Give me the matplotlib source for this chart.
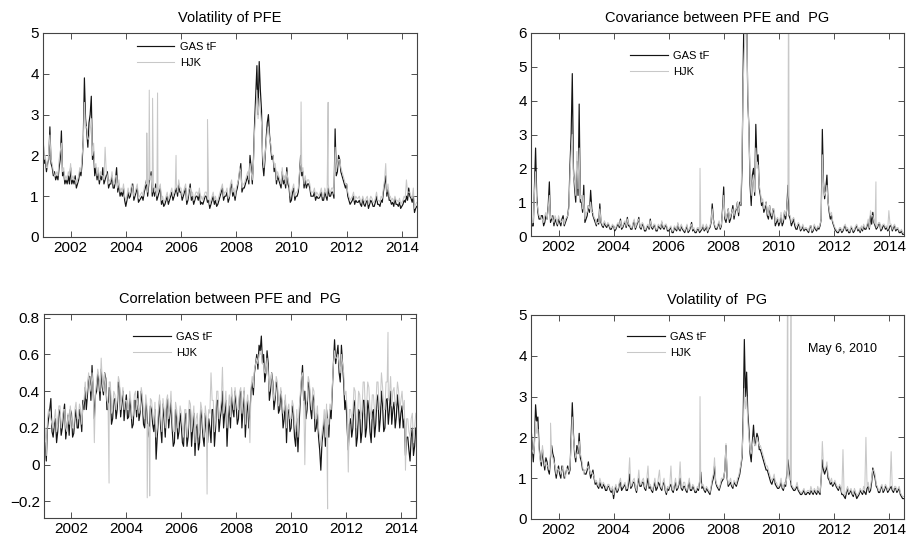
import numpy as np
import matplotlib
matplotlib.use("Agg")
import matplotlib.pyplot as plt

plt.rcParams["font.family"] = ["Liberation Sans", "DejaVu Sans"]

START_YEAR = 2001  # readings at the start and middle of each month, Jan 2001 .. Jul 2014

# ---- Volatility of PFE ----
pfe_vol_gas = [
    2.5, 1.9, 1.8, 2.7, 1.7, 1.6, 1.5, 1.7, 2.6, 1.6, 1.4, 1.5,
    1.7, 1.4, 1.5, 1.3, 1.6, 1.8, 3.9, 2.6, 2.8, 3.45, 2.1, 1.7,
    1.6, 1.5, 1.7, 1.4, 1.6, 1.3, 1.5, 1.2, 1.7, 1.3, 1.1, 1.2,
    0.75, 1.1, 1.0, 1.3, 1.0, 1.2, 0.9, 1.0, 1.1, 1.4, 1.3, 1.6,
    1.2, 1.3, 1.0, 1.2, 0.9, 0.8, 1.0, 0.9, 1.1, 1.0, 1.2, 1.3,
    1.1, 1.0, 1.2, 0.9, 1.3, 1.0, 0.9, 1.0, 1.1, 0.85, 0.9, 1.0,
    0.9, 0.8, 1.0, 0.9, 0.8, 1.0, 1.2, 1.0, 1.1, 0.95, 1.3, 1.1,
    1.1, 1.4, 1.8, 1.2, 1.3, 1.5, 2.0, 1.3, 2.8, 4.2, 4.3, 3.1,
    1.5, 2.4, 3.0, 2.2, 2.0, 1.7, 1.5, 1.3, 1.6, 1.4, 1.7, 1.2,
    0.9, 1.2, 1.0, 1.1, 2.0, 1.6, 1.4, 1.3, 1.2, 1.0, 1.1, 1.0,
    0.95, 1.1, 0.9, 1.0, 1.2, 1.0, 1.1, 2.65, 1.6, 1.9, 1.5, 1.3,
    1.3, 0.9, 0.85, 1.0, 0.9, 0.85, 0.8, 0.95, 0.75, 0.9, 0.8, 0.85,
    0.75, 1.0, 0.8, 0.9, 1.1, 1.5, 1.2, 0.9, 0.85, 0.95, 0.8, 0.85,
    0.75, 0.9, 1.0, 1.2, 0.95, 1.0, 0.7,
]
pfe_vol_gas_mid = [
    1.8, 1.6, 1.9, 1.8, 1.5, 1.4, 1.4, 1.9, 1.5, 1.3, 1.3, 1.3,
    1.3, 1.3, 1.2, 1.4, 1.5, 2.4, 2.9, 2.2, 3.0, 1.9, 1.5, 1.4,
    1.3, 1.4, 1.3, 1.5, 1.2, 1.3, 1.2, 1.4, 1.1, 1.0, 1.0, 0.9,
    0.9, 0.95, 1.2, 0.9, 1.1, 0.85, 0.95, 0.9, 1.2, 1.0, 1.5, 1.0,
    1.0, 0.9, 1.1, 0.8, 0.75, 0.9, 0.8, 1.0, 0.9, 1.1, 1.0, 1.1,
    0.9, 1.1, 0.8, 1.1, 0.9, 0.8, 1.0, 0.9, 0.8, 0.8, 1.0, 0.85,
    0.7, 0.9, 0.8, 0.75, 0.9, 1.1, 0.9, 1.0, 0.85, 1.2, 1.0, 0.9,
    1.2, 1.6, 1.1, 1.2, 1.4, 1.3, 1.7, 1.9, 3.5, 3.0, 3.6, 1.8,
    1.9, 2.8, 2.5, 1.9, 1.6, 1.3, 1.4, 1.2, 1.3, 1.2, 1.3, 0.85,
    1.1, 0.9, 1.0, 1.5, 1.5, 1.2, 1.2, 1.3, 1.0, 1.0, 0.9, 0.95,
    1.0, 0.9, 1.1, 0.9, 1.0, 1.1, 0.95, 1.5, 2.0, 1.6, 1.4, 1.2,
    1.0, 0.8, 0.9, 0.8, 0.85, 0.9, 0.75, 0.8, 0.85, 0.7, 0.9, 0.75,
    0.85, 0.8, 0.75, 0.85, 1.3, 1.0, 0.9, 0.8, 0.75, 0.8, 0.75, 0.7,
    0.8, 0.85, 0.9, 1.0, 0.85, 0.6, 0.75,
]
pfe_vol_hjk = [
    2.6, 2.0, 1.7, 2.5, 1.8, 1.5, 1.6, 1.9, 2.3, 1.7, 1.5, 1.6,
    1.8, 1.5, 1.4, 1.4, 1.7, 2.0, 3.3, 2.7, 2.4, 2.9, 2.3, 1.8,
    1.7, 1.6, 1.5, 2.2, 1.5, 1.4, 1.6, 1.3, 1.5, 1.4, 1.2, 1.3,
    0.9, 1.2, 1.1, 1.2, 1.1, 1.3, 1.0, 1.1, 1.2, 1.3, 1.4, 1.5,
    1.3, 1.2, 1.1, 1.3, 1.0, 0.9, 1.1, 1.0, 1.2, 1.1, 1.3, 1.4,
    1.2, 1.1, 1.3, 1.0, 1.2, 1.1, 1.0, 1.1, 1.2, 1.0, 1.0, 1.1,
    1.0, 0.9, 1.1, 1.0, 0.9, 1.1, 1.3, 1.1, 1.2, 1.0, 1.4, 1.2,
    1.2, 1.4, 1.6, 1.3, 1.4, 1.6, 1.8, 1.4, 2.6, 3.6, 3.4, 2.8,
    1.7, 2.3, 2.7, 2.3, 2.0, 1.8, 1.6, 1.4, 1.7, 1.5, 1.6, 1.3,
    1.1, 1.3, 1.1, 1.2, 1.8, 1.7, 1.5, 1.4, 1.3, 1.1, 1.2, 1.1,
    1.0, 1.2, 1.0, 1.1, 1.3, 1.1, 1.2, 2.2, 1.8, 1.9, 1.6, 1.4,
    1.3, 1.0, 0.95, 1.1, 1.0, 0.95, 0.9, 1.0, 0.85, 1.0, 0.9, 0.95,
    0.85, 1.1, 0.9, 1.0, 1.2, 1.8, 1.3, 1.0, 0.95, 1.0, 0.9, 0.95,
    0.85, 1.0, 1.4, 1.1, 1.0, 1.2, 0.8,
]
pfe_vol_hjk_mid = [
    1.9, 1.7, 2.1, 1.9, 1.6, 1.5, 1.5, 2.1, 1.6, 1.4, 1.4, 1.5,
    1.4, 1.4, 1.3, 1.5, 1.6, 2.3, 2.7, 2.4, 2.6, 2.0, 1.7, 1.5,
    1.4, 1.5, 1.4, 1.6, 1.3, 1.4, 1.3, 1.5, 1.2, 1.1, 1.1, 1.0,
    1.0, 1.05, 1.3, 1.0, 1.2, 0.95, 1.05, 1.0, 1.3, 1.1, 1.4, 1.1,
    1.1, 1.0, 1.2, 0.9, 0.85, 1.0, 0.9, 1.1, 1.0, 1.2, 1.1, 1.2,
    1.0, 1.2, 0.9, 1.2, 1.0, 0.9, 1.1, 1.0, 0.9, 0.9, 1.1, 0.95,
    0.8, 1.0, 0.9, 0.85, 1.0, 1.2, 1.0, 1.1, 0.95, 1.3, 1.1, 1.0,
    1.3, 1.7, 1.2, 1.3, 1.5, 1.4, 1.6, 1.8, 3.0, 2.9, 3.1, 2.0,
    2.0, 2.6, 2.4, 2.0, 1.7, 1.4, 1.5, 1.3, 1.4, 1.3, 1.4, 1.0,
    1.2, 1.0, 1.1, 1.6, 1.6, 1.3, 1.3, 1.4, 1.1, 1.1, 1.0, 1.05,
    1.1, 1.0, 1.2, 1.0, 1.1, 1.2, 1.05, 1.6, 1.9, 1.7, 1.5, 1.3,
    1.1, 0.9, 1.0, 0.9, 0.95, 1.0, 0.85, 0.9, 0.95, 0.8, 1.0, 0.85,
    0.95, 0.9, 0.85, 0.95, 1.4, 1.1, 1.0, 0.9, 0.85, 0.9, 0.85, 0.8,
    0.9, 0.95, 1.1, 1.1, 0.95, 0.7, 0.85,
]
pfe_vol_hjk_spike_t = [2004.76, 2004.85, 2004.97, 2005.15, 2005.82, 2006.96, 2010.35, 2011.33]
pfe_vol_hjk_spike_v = [2.55, 3.6, 3.4, 3.53, 2.0, 2.88, 3.31, 3.3]

# ---- Covariance between PFE and PG ----
cov_gas = [
    0.6, 0.3, 2.6, 0.7, 0.5, 0.6, 0.4, 0.5, 1.6, 0.5, 0.3, 0.4,
    0.5, 0.3, 0.6, 0.4, 0.6, 2.1, 4.8, 1.4, 2.2, 3.9, 1.0, 1.5,
    0.5, 0.9, 1.35, 0.6, 0.4, 0.5, 0.95, 0.3, 0.4, 0.25, 0.3, 0.2,
    0.3, 0.2, 0.35, 0.5, 0.25, 0.4, 0.55, 0.3, 0.2, 0.45, 0.3, 0.55,
    0.2, 0.3, 0.15, 0.3, 0.5, 0.2, 0.3, 0.15, 0.25, 0.4, 0.2, 0.3,
    0.15, 0.25, 0.1, 0.2, 0.35, 0.15, 0.2, 0.1, 0.3, 0.15, 0.4, 0.2,
    0.1, 0.2, 0.15, 0.3, 0.2, 0.1, 0.25, 0.95, 0.3, 0.2, 0.4, 0.3,
    1.45, 0.4, 0.8, 0.5, 0.9, 0.7, 1.0, 1.0, 2.0, 7.5, 6.8, 3.2,
    0.9, 2.0, 3.3, 2.4, 1.2, 1.0, 0.8, 0.6, 0.9, 0.5, 0.7, 0.4,
    0.3, 0.6, 0.4, 0.5, 1.5, 0.5, 0.4, 0.3, 0.2, 0.3, 0.2, 0.15,
    0.2, 0.1, 0.3, 0.15, 0.2, 0.25, 0.3, 3.15, 1.1, 1.8, 0.7, 0.6,
    0.3, 0.15, 0.1, 0.2, 0.15, 0.3, 0.2, 0.1, 0.2, 0.15, 0.3, 0.2,
    0.25, 0.3, 0.2, 0.4, 0.6, 0.7, 0.3, 0.25, 0.35, 0.2, 0.3, 0.25,
    0.2, 0.3, 0.25, 0.15, 0.2, 0.1, 0.05,
]
cov_gas_mid = [
    0.3, 1.4, 1.2, 0.5, 0.6, 0.3, 0.6, 0.9, 0.4, 0.6, 0.5, 0.3,
    0.4, 0.5, 0.3, 0.5, 0.9, 3.0, 2.0, 1.0, 1.2, 1.0, 0.7, 0.4,
    0.6, 0.7, 0.8, 0.5, 0.3, 0.35, 0.4, 0.25, 0.3, 0.35, 0.2, 0.3,
    0.15, 0.3, 0.25, 0.2, 0.35, 0.25, 0.3, 0.2, 0.35, 0.2, 0.4, 0.25,
    0.35, 0.15, 0.25, 0.2, 0.25, 0.3, 0.15, 0.3, 0.2, 0.25, 0.3, 0.15,
    0.2, 0.1, 0.25, 0.15, 0.2, 0.3, 0.15, 0.2, 0.1, 0.25, 0.15, 0.1,
    0.2, 0.1, 0.2, 0.15, 0.3, 0.2, 0.4, 0.5, 0.2, 0.3, 0.2, 0.8,
    0.5, 0.6, 0.4, 0.7, 0.5, 0.8, 0.6, 0.9, 5.0, 6.5, 4.0, 1.5,
    1.8, 1.2, 2.2, 1.4, 0.9, 0.7, 1.0, 0.5, 0.6, 0.8, 0.3, 0.5,
    0.4, 0.3, 0.7, 0.8, 0.6, 0.3, 0.5, 0.2, 0.35, 0.15, 0.3, 0.2,
    0.15, 0.25, 0.1, 0.3, 0.15, 0.2, 0.5, 1.6, 1.4, 1.0, 0.5, 0.4,
    0.2, 0.1, 0.2, 0.1, 0.25, 0.15, 0.1, 0.25, 0.1, 0.25, 0.15, 0.1,
    0.15, 0.2, 0.3, 0.2, 0.35, 0.4, 0.2, 0.35, 0.15, 0.3, 0.2, 0.15,
    0.3, 0.15, 0.3, 0.2, 0.1, 0.15, 0.05,
]
cov_hjk = [
    1.2, 0.4, 1.9, 0.8, 0.6, 0.5, 0.6, 0.5, 1.2, 0.6, 0.4, 0.5,
    0.6, 0.4, 0.5, 0.5, 0.6, 1.8, 3.0, 1.6, 2.5, 2.6, 1.2, 1.2,
    0.7, 0.9, 1.0, 0.7, 0.5, 0.4, 0.8, 0.35, 0.45, 0.3, 0.35, 0.25,
    0.3, 0.25, 0.4, 0.45, 0.3, 0.45, 0.5, 0.35, 0.25, 0.5, 0.35, 0.5,
    0.25, 0.35, 0.2, 0.35, 0.45, 0.25, 0.35, 0.2, 0.3, 0.45, 0.25, 0.35,
    0.2, 0.3, 0.15, 0.25, 0.4, 0.2, 0.25, 0.15, 0.35, 0.2, 0.35, 0.25,
    0.15, 0.25, 0.2, 0.35, 0.25, 0.15, 0.3, 0.8, 0.35, 0.25, 0.45, 0.35,
    1.2, 0.5, 0.8, 0.6, 0.8, 0.8, 1.0, 0.9, 2.5, 5.5, 6.5, 3.0,
    1.2, 1.8, 2.6, 2.1, 1.3, 1.1, 0.9, 0.7, 0.9, 0.6, 0.8, 0.5,
    0.4, 0.7, 0.5, 0.6, 1.2, 0.6, 0.5, 0.4, 0.3, 0.35, 0.25, 0.2,
    0.25, 0.15, 0.3, 0.2, 0.25, 0.3, 0.35, 2.4, 1.2, 1.5, 0.8, 0.7,
    0.35, 0.2, 0.15, 0.25, 0.2, 0.35, 0.25, 0.15, 0.25, 0.2, 0.35, 0.25,
    0.3, 0.35, 0.25, 0.5, 0.75, 0.6, 0.35, 0.3, 0.4, 0.3, 0.35, 0.3,
    0.75, 0.35, 0.3, 0.2, 0.25, 0.15, 0.1,
]
cov_hjk_mid = [
    0.4, 1.3, 1.0, 0.6, 0.5, 0.4, 0.7, 0.8, 0.5, 0.5, 0.6, 0.35,
    0.5, 0.45, 0.35, 0.55, 0.8, 2.5, 1.8, 1.2, 1.4, 1.1, 0.8, 0.5,
    0.7, 0.8, 0.7, 0.55, 0.35, 0.4, 0.45, 0.3, 0.35, 0.4, 0.25, 0.35,
    0.2, 0.35, 0.3, 0.25, 0.4, 0.3, 0.35, 0.25, 0.4, 0.25, 0.45, 0.3,
    0.4, 0.2, 0.3, 0.25, 0.3, 0.35, 0.2, 0.35, 0.25, 0.3, 0.35, 0.2,
    0.25, 0.15, 0.3, 0.2, 0.25, 0.35, 0.2, 0.25, 0.15, 0.3, 0.2, 0.15,
    0.25, 0.15, 0.25, 0.2, 0.35, 0.25, 0.45, 0.45, 0.25, 0.35, 0.25, 0.7,
    0.6, 0.65, 0.5, 0.7, 0.6, 0.8, 0.7, 1.0, 4.5, 6.2, 4.2, 1.8,
    1.6, 1.3, 2.0, 1.5, 1.0, 0.8, 1.0, 0.6, 0.7, 0.8, 0.4, 0.55,
    0.45, 0.4, 0.75, 0.8, 0.65, 0.4, 0.55, 0.3, 0.4, 0.2, 0.35, 0.25,
    0.2, 0.3, 0.15, 0.35, 0.2, 0.25, 0.5, 1.5, 1.3, 1.0, 0.6, 0.45,
    0.25, 0.15, 0.25, 0.15, 0.3, 0.2, 0.15, 0.3, 0.15, 0.3, 0.2, 0.15,
    0.2, 0.25, 0.35, 0.25, 0.6, 0.45, 0.25, 0.4, 0.2, 0.35, 0.25, 0.2,
    0.35, 0.2, 0.35, 0.25, 0.15, 0.2, 0.1,
]
cov_hjk_spike_t = [2007.14, 2010.36, 2013.53]
cov_hjk_spike_v = [2.0, 9.0, 1.6]

# ---- Correlation between PFE and PG ----
corr_gas = [
    0.08, 0.02, 0.25, 0.36, 0.15, 0.25, 0.18, 0.28, 0.2, 0.33, 0.2, 0.16,
    0.28, 0.17, 0.3, 0.2, 0.26, 0.35, 0.42, 0.38, 0.48, 0.54, 0.25, 0.4,
    0.45, 0.52, 0.38, 0.47, 0.3, 0.4, 0.25, 0.36, 0.3, 0.42, 0.33, 0.24,
    0.38, 0.26, 0.3, 0.22, 0.35, 0.4, 0.28, 0.33, 0.2, 0.28, 0.15, 0.3,
    0.18, 0.03, 0.25, 0.2, 0.33, 0.15, 0.36, 0.27, 0.2, 0.12, 0.25, 0.18,
    0.22, 0.1, 0.28, 0.15, 0.3, 0.2, 0.05, 0.22, 0.12, 0.25, 0.1, 0.18,
    0.25, 0.12, 0.3, 0.2, 0.35, 0.25, 0.4, 0.28, 0.1, 0.32, 0.38, 0.26,
    0.32, 0.25, 0.4, 0.3, 0.15, 0.35, 0.28, 0.45, 0.5, 0.6, 0.65, 0.7,
    0.6, 0.5, 0.55, 0.4, 0.45, 0.35, 0.42, 0.3, 0.33, 0.25, 0.12, 0.3,
    0.2, 0.28, 0.1, 0.07, 0.35, 0.54, 0.4, 0.3, 0.42, 0.25, 0.35, 0.2,
    0.15, -0.03, 0.18, 0.1, 0.22, 0.3, 0.4, 0.68, 0.6, 0.5, 0.65, 0.45,
    0.35, 0.08, 0.25, 0.2, 0.32, 0.15, 0.28, 0.18, 0.35, 0.2, 0.3, 0.12,
    0.3, 0.22, 0.38, 0.25, 0.32, 0.2, 0.36, 0.3, 0.22, 0.34, 0.26, 0.3,
    0.28, 0.2, 0.05, 0.15, 0.02, 0.2, 0.1,
]
corr_gas_mid = [
    0.12, 0.2, 0.3, 0.18, 0.22, 0.12, 0.3, 0.16, 0.28, 0.14, 0.27, 0.3,
    0.15, 0.25, 0.2, 0.3, 0.18, 0.3, 0.3, 0.48, 0.35, 0.4, 0.38, 0.5,
    0.35, 0.42, 0.5, 0.3, 0.42, 0.22, 0.35, 0.25, 0.45, 0.26, 0.4, 0.32,
    0.25, 0.36, 0.2, 0.35, 0.26, 0.24, 0.4, 0.22, 0.34, 0.18, 0.32, 0.22,
    0.3, 0.15, 0.35, 0.12, 0.25, 0.3, 0.2, 0.35, 0.1, 0.3, 0.14, 0.28,
    0.12, 0.25, 0.1, 0.3, 0.1, 0.28, 0.2, 0.08, 0.3, 0.15, 0.28, 0.12,
    0.2, 0.3, 0.1, 0.35, 0.18, 0.3, 0.2, 0.35, 0.25, 0.2, 0.3, 0.4,
    0.22, 0.38, 0.2, 0.4, 0.28, 0.2, 0.4, 0.38, 0.55, 0.52, 0.62, 0.55,
    0.45, 0.62, 0.35, 0.5, 0.3, 0.45, 0.28, 0.4, 0.2, 0.35, 0.28, 0.18,
    0.32, 0.15, 0.25, 0.22, 0.45, 0.35, 0.25, 0.45, 0.3, 0.38, 0.18, 0.28,
    0.08, 0.12, 0.25, 0.3, 0.15, 0.25, 0.55, 0.55, 0.65, 0.45, 0.55, 0.3,
    0.2, 0.22, 0.15, 0.35, 0.1, 0.3, 0.12, 0.35, 0.15, 0.35, 0.18, 0.28,
    0.15, 0.35, 0.18, 0.4, 0.18, 0.35, 0.22, 0.4, 0.3, 0.2, 0.38, 0.2,
    0.32, 0.25, 0.15, 0.08, 0.15, 0.05, 0.2,
]
corr_hjk = [
    0.15, 0.05, 0.3, 0.25, 0.2, 0.3, 0.22, 0.32, 0.25, 0.3, 0.18, 0.22,
    0.25, 0.2, 0.34, 0.25, 0.3, 0.32, 0.45, 0.42, 0.44, 0.5, 0.12, 0.45,
    0.48, 0.58, 0.4, 0.43, 0.33, 0.45, 0.3, 0.38, 0.35, 0.45, 0.36, 0.3,
    0.35, 0.3, 0.34, 0.27, 0.4, 0.36, 0.3, 0.38, 0.25, 0.32, 0.2, 0.35,
    0.22, 0.15, 0.3, 0.25, 0.36, 0.2, 0.38, 0.3, 0.26, 0.18, 0.3, 0.24,
    0.28, 0.15, 0.3, 0.2, 0.33, 0.25, 0.12, 0.28, 0.18, 0.3, 0.15, 0.25,
    0.3, 0.5, 0.35, 0.25, 0.4, 0.3, 0.53, 0.32, 0.2, 0.38, 0.42, 0.3,
    0.36, 0.3, 0.42, 0.35, 0.22, 0.38, 0.12, 0.48, 0.52, 0.58, 0.6, 0.62,
    0.55, 0.5, 0.5, 0.45, 0.42, 0.38, 0.45, 0.35, 0.36, 0.3, 0.2, 0.33,
    0.25, 0.32, 0.18, 0.15, 0.38, 0.5, 0.0, 0.35, 0.45, 0.3, 0.4, 0.25,
    0.2, 0.1, 0.22, 0.15, 0.25, 0.33, 0.42, 0.62, 0.58, 0.55, 0.6, 0.5,
    0.4, -0.04, 0.3, 0.28, 0.4, 0.25, 0.38, 0.3, 0.45, 0.32, 0.42, 0.25,
    0.38, 0.3, 0.45, 0.35, 0.42, 0.3, 0.45, 0.38, 0.32, 0.42, 0.35, 0.4,
    0.35, 0.3, -0.03, 0.25, 0.15, 0.28, 0.2,
]
corr_hjk_mid = [
    0.2, 0.25, 0.28, 0.22, 0.25, 0.18, 0.32, 0.2, 0.3, 0.2, 0.28, 0.32,
    0.2, 0.3, 0.25, 0.33, 0.22, 0.35, 0.36, 0.5, 0.4, 0.42, 0.4, 0.52,
    0.4, 0.45, 0.5, 0.35, 0.45, 0.28, 0.4, 0.3, 0.48, 0.3, 0.42, 0.35,
    0.3, 0.4, 0.25, 0.38, 0.3, 0.28, 0.42, 0.28, 0.38, 0.22, 0.36, 0.28,
    0.34, 0.2, 0.38, 0.18, 0.3, 0.35, 0.25, 0.4, 0.18, 0.34, 0.2, 0.32,
    0.2, 0.3, 0.15, 0.35, 0.18, 0.32, 0.25, 0.15, 0.34, 0.2, 0.32, 0.2,
    0.28, 0.35, 0.18, 0.4, 0.25, 0.35, 0.28, 0.4, 0.3, 0.26, 0.35, 0.42,
    0.3, 0.4, 0.28, 0.42, 0.32, 0.3, 0.42, 0.42, 0.55, 0.55, 0.6, 0.55,
    0.5, 0.58, 0.4, 0.5, 0.35, 0.48, 0.32, 0.42, 0.28, 0.38, 0.3, 0.25,
    0.35, 0.22, 0.3, 0.3, 0.48, 0.4, 0.32, 0.48, 0.35, 0.42, 0.25, 0.32,
    0.15, 0.18, 0.3, 0.33, 0.22, 0.3, 0.55, 0.58, 0.6, 0.5, 0.55, 0.38,
    0.3, 0.3, 0.25, 0.42, 0.2, 0.4, 0.25, 0.45, 0.28, 0.45, 0.3, 0.38,
    0.28, 0.45, 0.3, 0.5, 0.3, 0.45, 0.35, 0.48, 0.4, 0.32, 0.45, 0.3,
    0.4, 0.35, 0.25, 0.18, 0.25, 0.12, 0.28,
]
corr_hjk_spike_t = [2003.37, 2004.76, 2004.85, 2006.94, 2011.33, 2013.53]
corr_hjk_spike_v = [-0.1, -0.18, -0.17, -0.16, -0.24, 0.72]

# ---- Volatility of PG ----
pg_vol_gas = [
    2.3, 1.4, 2.8, 2.5, 1.5, 1.7, 1.2, 1.4, 1.1, 1.8, 1.5, 1.0,
    1.3, 1.0, 1.2, 1.1, 1.3, 1.2, 2.85, 1.6, 1.8, 2.1, 1.4, 1.2,
    1.1, 1.4, 1.0, 1.2, 0.85, 0.8, 0.9, 0.75, 0.8, 0.7, 0.8, 0.65,
    0.5, 0.8, 0.7, 0.9, 0.75, 0.85, 0.7, 1.1, 0.8, 0.9, 0.65, 1.0,
    0.8, 0.9, 0.7, 1.0, 0.8, 0.65, 0.9, 0.75, 0.85, 0.7, 0.9, 0.6,
    0.7, 0.85, 0.65, 0.9, 0.75, 1.0, 0.7, 0.8, 0.65, 0.9, 0.7, 0.75,
    0.65, 0.7, 1.15, 0.8, 0.65, 0.7, 0.6, 0.9, 1.3, 0.8, 0.7, 0.9,
    1.0, 1.8, 0.8, 0.9, 0.75, 0.85, 0.9, 1.1, 1.5, 4.4, 3.6, 2.2,
    1.4, 2.3, 1.9, 2.0, 1.7, 1.5, 1.3, 1.2, 1.0, 0.85, 1.0, 0.8,
    0.75, 0.9, 0.7, 0.8, 1.45, 1.0, 0.75, 0.7, 0.8, 0.65, 0.6, 0.7,
    0.6, 0.65, 0.7, 0.6, 0.65, 0.7, 0.6, 1.45, 1.1, 1.3, 0.95, 0.9,
    0.85, 0.8, 0.7, 0.75, 0.6, 0.5, 0.75, 0.65, 0.6, 0.7, 0.5, 0.6,
    0.65, 0.7, 0.6, 0.8, 0.7, 1.25, 1.0, 0.75, 0.65, 0.8, 0.7, 0.75,
    0.7, 0.8, 0.65, 0.75, 0.7, 0.6, 0.5,
]
pg_vol_gas_mid = [
    1.8, 1.9, 2.4, 1.8, 1.3, 1.4, 1.5, 1.2, 1.5, 1.6, 1.2, 1.2,
    1.1, 1.3, 1.0, 1.2, 1.1, 2.0, 2.1, 1.4, 1.6, 1.5, 1.2, 1.1,
    1.2, 1.2, 1.1, 1.0, 0.9, 0.75, 0.8, 0.85, 0.7, 0.8, 0.7, 0.75,
    0.7, 0.65, 0.85, 0.7, 0.8, 0.7, 0.85, 0.75, 0.9, 0.75, 0.85, 0.8,
    0.9, 0.75, 0.85, 0.75, 0.7, 0.8, 0.7, 0.9, 0.75, 0.85, 0.7, 0.75,
    0.8, 0.7, 0.8, 0.7, 0.85, 0.75, 0.8, 0.7, 0.8, 0.7, 0.8, 0.65,
    0.75, 0.9, 0.75, 0.7, 0.75, 0.65, 0.75, 1.0, 0.9, 0.75, 0.8, 0.95,
    1.2, 1.0, 0.85, 0.8, 0.9, 0.8, 1.0, 1.3, 2.5, 3.0, 2.6, 1.6,
    1.9, 1.8, 2.1, 1.7, 1.6, 1.4, 1.2, 1.1, 0.9, 0.95, 0.85, 0.75,
    0.8, 0.75, 0.85, 1.1, 1.2, 0.8, 0.7, 0.75, 0.7, 0.6, 0.65, 0.6,
    0.65, 0.6, 0.65, 0.7, 0.6, 0.65, 1.0, 1.2, 1.2, 1.0, 0.85, 0.8,
    0.9, 0.75, 0.8, 0.6, 0.55, 0.65, 0.6, 0.7, 0.55, 0.6, 0.55, 0.7,
    0.6, 0.65, 0.75, 0.65, 0.9, 1.1, 0.8, 0.65, 0.75, 0.65, 0.8, 0.65,
    0.75, 0.7, 0.75, 0.65, 0.75, 0.55, 0.5,
]
pg_vol_hjk = [
    2.0, 1.6, 2.4, 2.2, 1.4, 1.8, 1.3, 1.3, 1.2, 1.6, 1.4, 1.1,
    1.2, 1.1, 1.3, 1.0, 1.2, 1.3, 2.5, 1.7, 1.6, 1.9, 1.5, 1.1,
    1.2, 1.3, 1.1, 1.1, 0.9, 0.85, 1.0, 0.8, 0.85, 0.75, 0.85, 0.7,
    0.6, 0.85, 0.75, 1.0, 0.8, 0.9, 0.75, 1.5, 0.85, 1.0, 0.7, 1.2,
    0.85, 1.0, 0.75, 1.3, 0.85, 0.7, 1.0, 0.8, 1.2, 0.75, 1.0, 0.65,
    0.75, 1.3, 0.7, 1.0, 0.8, 1.4, 0.75, 0.9, 0.7, 1.0, 0.75, 0.8,
    0.7, 0.75, 0.9, 0.85, 0.7, 0.75, 0.65, 1.0, 1.5, 0.85, 0.75, 1.0,
    1.0, 1.85, 0.85, 1.0, 0.8, 0.9, 1.0, 1.2, 1.6, 3.2, 3.0, 2.0,
    1.6, 2.0, 1.8, 1.9, 1.8, 1.6, 1.4, 1.3, 1.1, 0.95, 1.1, 0.9,
    0.8, 1.0, 0.75, 0.85, 1.2, 0.95, 0.8, 0.75, 0.9, 0.7, 0.65, 0.75,
    0.65, 0.7, 0.8, 0.65, 0.7, 0.8, 0.65, 1.9, 1.2, 1.4, 1.0, 1.0,
    0.9, 0.85, 0.75, 0.8, 1.7, 0.6, 0.8, 0.7, 0.65, 0.75, 0.6, 0.65,
    0.7, 0.8, 2.0, 0.9, 0.8, 1.2, 1.1, 0.8, 0.7, 0.85, 0.75, 0.8,
    0.75, 1.65, 0.7, 0.8, 0.75, 0.65, 0.55,
]
pg_vol_hjk_mid = [
    1.7, 1.8, 2.1, 1.7, 1.4, 1.5, 1.4, 1.3, 1.6, 1.5, 1.3, 1.25,
    1.2, 1.2, 1.1, 1.25, 1.15, 1.8, 2.0, 1.5, 1.7, 1.6, 1.3, 1.2,
    1.25, 1.2, 1.15, 1.05, 0.95, 0.8, 0.9, 0.9, 0.8, 0.85, 0.75, 0.8,
    0.75, 0.7, 0.9, 0.8, 0.85, 0.75, 1.0, 0.8, 0.95, 0.8, 0.9, 0.85,
    0.95, 0.8, 1.0, 0.8, 0.75, 0.85, 0.8, 1.0, 0.8, 0.9, 0.75, 0.8,
    0.85, 0.75, 0.85, 0.75, 0.9, 0.8, 0.9, 0.75, 0.85, 0.75, 0.85, 0.7,
    0.8, 0.95, 0.8, 0.75, 0.8, 0.7, 0.8, 1.1, 0.95, 0.8, 0.85, 1.0,
    1.2, 1.05, 0.9, 0.85, 0.95, 0.85, 1.05, 1.35, 2.2, 2.7, 2.4, 1.7,
    1.8, 1.8, 2.0, 1.8, 1.7, 1.5, 1.3, 1.2, 1.0, 1.0, 0.9, 0.8,
    0.85, 0.8, 0.9, 1.0, 1.0, 0.85, 0.75, 0.8, 0.75, 0.65, 0.7, 0.65,
    0.7, 0.65, 0.7, 0.75, 0.65, 0.7, 1.0, 1.3, 1.25, 1.1, 0.9, 0.85,
    0.95, 0.8, 0.85, 0.65, 0.6, 0.7, 0.65, 0.75, 0.6, 0.65, 0.6, 0.75,
    0.65, 0.7, 0.8, 0.7, 1.0, 1.2, 0.85, 0.7, 0.8, 0.7, 0.85, 0.7,
    0.8, 0.75, 0.8, 0.7, 0.8, 0.6, 0.55,
]
pg_vol_hjk_spike_t = [2001.71, 2007.14, 2010.33, 2010.45]
pg_vol_hjk_spike_v = [2.35, 3.0, 8.0, 8.0]

GAS_COLOR = "#141414"
HJK_COLOR = "#c8c8c8"
FIG_W, FIG_H = 906, 542


def build_series(start_vals, mid_vals, spike_t=(), spike_v=()):
    k = np.arange(len(start_vals))
    t = np.concatenate([START_YEAR + k / 12.0,
                        START_YEAR + (np.arange(len(mid_vals)) + 0.5) / 12.0,
                        np.asarray(spike_t, dtype=float)])
    v = np.concatenate([start_vals, mid_vals, np.asarray(spike_v, dtype=float)])
    order = np.argsort(t, kind="stable")
    return t[order], v[order]


def px_axes(fig, x0, y0, x1, y1):
    # pixel box (left, top, right, bottom) -> figure fraction
    return fig.add_axes([x0 / FIG_W, 1 - y1 / FIG_H, (x1 - x0) / FIG_W, (y1 - y0) / FIG_H])


def draw_panel(ax, title, gas, hjk, ylim, yticks, legend_xy, yticklabels=None):
    ax.plot(*gas, color=GAS_COLOR, lw=0.85, label="GAS tF")
    ax.plot(*hjk, color=HJK_COLOR, lw=0.75, label="HJK")
    ax.set_xlim(2001.0, 2014.55)
    ax.set_ylim(*ylim)
    ax.set_xticks(range(2002, 2015, 2))
    ax.set_yticks(yticks)
    if yticklabels is not None:
        ax.set_yticklabels(yticklabels)
    ax.tick_params(direction="in", length=4, width=0.6, top=True, right=True,
                   labelsize=11, pad=3, color="#333333")
    for spine in ax.spines.values():
        spine.set_color("#444444")
        spine.set_linewidth(0.8)
    ax.set_title(title, fontsize=10.5, pad=8)
    ax.legend(loc="upper left", bbox_to_anchor=legend_xy, frameon=False, fontsize=8,
              handlelength=3.4, handletextpad=0.5, labelspacing=0.55,
              borderpad=0, borderaxespad=0)


fig = plt.figure(figsize=(FIG_W / 100, FIG_H / 100), dpi=100)

ax1 = px_axes(fig, 43, 33, 417, 237)
draw_panel(ax1, "Volatility of PFE",
           build_series(pfe_vol_gas, pfe_vol_gas_mid),
           build_series(pfe_vol_hjk, pfe_vol_hjk_mid, pfe_vol_hjk_spike_t, pfe_vol_hjk_spike_v),
           (0, 5), range(0, 6), (0.25, 0.955))

ax2 = px_axes(fig, 531, 33, 904, 236)
draw_panel(ax2, "Covariance between PFE and  PG",
           build_series(cov_gas, cov_gas_mid),
           build_series(cov_hjk, cov_hjk_mid, cov_hjk_spike_t, cov_hjk_spike_v),
           (0, 6), range(0, 7), (0.265, 0.91))

ax3 = px_axes(fig, 44, 314, 416, 518)
draw_panel(ax3, "Correlation between PFE and  PG",
           build_series(corr_gas, corr_gas_mid),
           build_series(corr_hjk, corr_hjk_mid, corr_hjk_spike_t, corr_hjk_spike_v),
           (-0.29, 0.82), [-0.2, 0, 0.2, 0.4, 0.6, 0.8], (0.239, 0.913),
           yticklabels=["\u22120.2", "0", "0.2", "0.4", "0.6", "0.8"])

ax4 = px_axes(fig, 531, 315, 904, 519)
draw_panel(ax4, "Volatility of  PG",
           build_series(pg_vol_gas, pg_vol_gas_mid),
           build_series(pg_vol_hjk, pg_vol_hjk_mid, pg_vol_hjk_spike_t, pg_vol_hjk_spike_v),
           (0, 5), range(0, 6), (0.257, 0.918))
ax4.text(0.742, 0.834, "May 6, 2010", transform=ax4.transAxes,
         fontsize=9, ha="left", va="center")

fig.savefig("out.png", dpi=100)
